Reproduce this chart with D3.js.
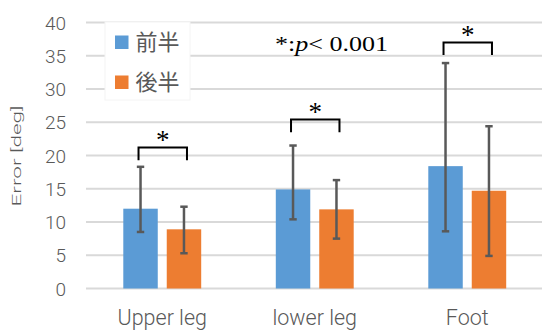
<!DOCTYPE html>
<html><head><meta charset="utf-8">
<script src="https://cdn.jsdelivr.net/npm/d3@7"></script>
<style>body{margin:0;background:#fff}svg{display:block}</style>
</head><body>
<svg id="c" width="542" height="332"></svg>
<script>
const categories = ["Upper leg", "lower leg", "Foot"];
const series = ["前半", "後半"];
const colors = ["#5B9BD5", "#ED7D31"];
const firstHalf = [12.0, 14.9, 18.4];
const secondHalf = [8.9, 11.9, 14.7];
const firstLow = [8.5, 10.4, 8.6];
const firstHigh = [18.3, 21.5, 33.9];
const secondLow = [5.3, 7.5, 4.9];
const secondHigh = [12.3, 16.3, 24.4];
const bracketTop = [21.2, 25.4, 37.0];
const yTicks = [0, 5, 10, 15, 20, 25, 30, 35, 40];
const yLabel = "Error [deg]";

const svg = d3.select("#c");
const y = d3.scaleLinear().domain([0, 40]).range([288.5, 22.5]);
const x = d3.scaleBand().domain(categories).range([86, 543.5]).padding(0);
const xs = d3.scaleBand().domain(series).range([37.3, 115.2]).paddingInner(0.207);
const axisFont = "Roboto, 'Open Sans', sans-serif";
const grey = "#595959";

// gridlines
svg.append("g").selectAll("line").data(yTicks).join("line")
  .attr("x1", 86).attr("x2", 542)
  .attr("y1", d => y(d)).attr("y2", d => y(d))
  .attr("stroke", "#d9d9d9").attr("stroke-width", 2);

// y axis labels via axis
const yAxis = svg.append("g").attr("transform", "translate(66,0)")
  .call(d3.axisLeft(y).tickValues(yTicks).tickSize(0).tickPadding(0));
yAxis.select(".domain").remove();
yAxis.selectAll("text").attr("font-family", axisFont).attr("font-size", 19)
  .attr("font-weight", 300).attr("fill", grey).attr("dy", "0.35em");

// x axis labels
const xAxis = svg.append("g").attr("transform", "translate(0,306)")
  .call(d3.axisBottom(x).tickSize(0).tickPadding(0));
xAxis.select(".domain").remove();
xAxis.selectAll("text").attr("font-family", axisFont).attr("font-size", 21.5)
  .attr("font-weight", 300).attr("fill", grey).attr("dy", "0.9em");

// y title
svg.append("text").attr("transform", "translate(21,156) rotate(-90)")
  .attr("text-anchor", "middle").attr("font-family", axisFont).attr("font-size", 13.5)
  .attr("font-weight", 300).attr("textLength", 101).attr("lengthAdjust", "spacingAndGlyphs")
  .attr("fill", grey).text(yLabel);

const data = categories.map((c, i) => ({
  c,
  vals: [
    {s: series[0], v: firstHalf[i], lo: firstLow[i], hi: firstHigh[i], col: colors[0]},
    {s: series[1], v: secondHalf[i], lo: secondLow[i], hi: secondHigh[i], col: colors[1]}
  ],
  bt: bracketTop[i]
}));

const g = svg.append("g").selectAll("g").data(data).join("g")
  .attr("transform", d => `translate(${x(d.c)},0)`);

g.selectAll("rect").data(d => d.vals).join("rect")
  .attr("x", d => xs(d.s)).attr("width", xs.bandwidth())
  .attr("y", d => y(d.v)).attr("height", d => y(0) - y(d.v))
  .attr("fill", d => d.col);

// error bars
const eb = g.selectAll("g.eb").data(d => d.vals).join("g").attr("class", "eb");
eb.append("line")
  .attr("x1", d => xs(d.s) + xs.bandwidth() / 2).attr("x2", d => xs(d.s) + xs.bandwidth() / 2)
  .attr("y1", d => y(d.lo)).attr("y2", d => y(d.hi))
  .attr("stroke", grey).attr("stroke-width", 2.5);
["lo", "hi"].forEach(k => {
  eb.append("line")
    .attr("x1", d => xs(d.s) + xs.bandwidth() / 2 - 3.7).attr("x2", d => xs(d.s) + xs.bandwidth() / 2 + 3.7)
    .attr("y1", d => y(d[k])).attr("y2", d => y(d[k]))
    .attr("stroke", grey).attr("stroke-width", 2.5);
});

// brackets
g.append("path")
  .attr("d", d => {
    const x1 = xs(series[0]) + xs.bandwidth() / 2 - 2;
    const x2 = xs(series[1]) + xs.bandwidth() / 2 + 3;
    const yt = y(d.bt), yb = y(d.bt - 1.9);
    return `M${x1},${yb}V${yt}H${x2}V${yb}`;
  })
  .attr("fill", "none").attr("stroke", "#000").attr("stroke-width", 2);
g.append("text")
  .attr("x", d => (xs(series[0]) + xs(series[1]) + xs.bandwidth()) / 2 + 0.5)
  .attr("y", d => y(d.bt) + 1.5)
  .attr("text-anchor", "middle").attr("font-family", "'Liberation Serif', serif")
  .attr("font-size", 27).attr("fill", "#000").text("*");

// p-value note
const note = svg.append("text").attr("x", 275).attr("y", 51)
  .attr("font-family", "'Liberation Serif', 'Times New Roman', serif").attr("font-size", 22)
  .attr("textLength", 113).attr("lengthAdjust", "spacingAndGlyphs").attr("fill", "#000");
note.append("tspan").text("*:");
note.append("tspan").attr("font-style", "italic").text("p");
note.append("tspan").text("< 0.001");

// legend
const lg = svg.append("g");
lg.append("rect").attr("x", 105).attr("y", 22).attr("width", 85).attr("height", 78)
  .attr("fill", "#fff").attr("stroke", "#f4f4f4").attr("stroke-width", 1);
series.forEach((s, i) => {
  const cy = 42 + i * 40;
  lg.append("rect").attr("x", 115).attr("y", cy - 6.5).attr("width", 13.5).attr("height", 13.5).attr("fill", colors[i]);
  lg.append("text").attr("x", 135.5).attr("y", cy).attr("dy", "0.36em")
    .attr("font-family", "'Noto Sans CJK JP', sans-serif").attr("font-size", 22)
    .attr("fill", grey).text(s);
});
</script>
</body></html>
